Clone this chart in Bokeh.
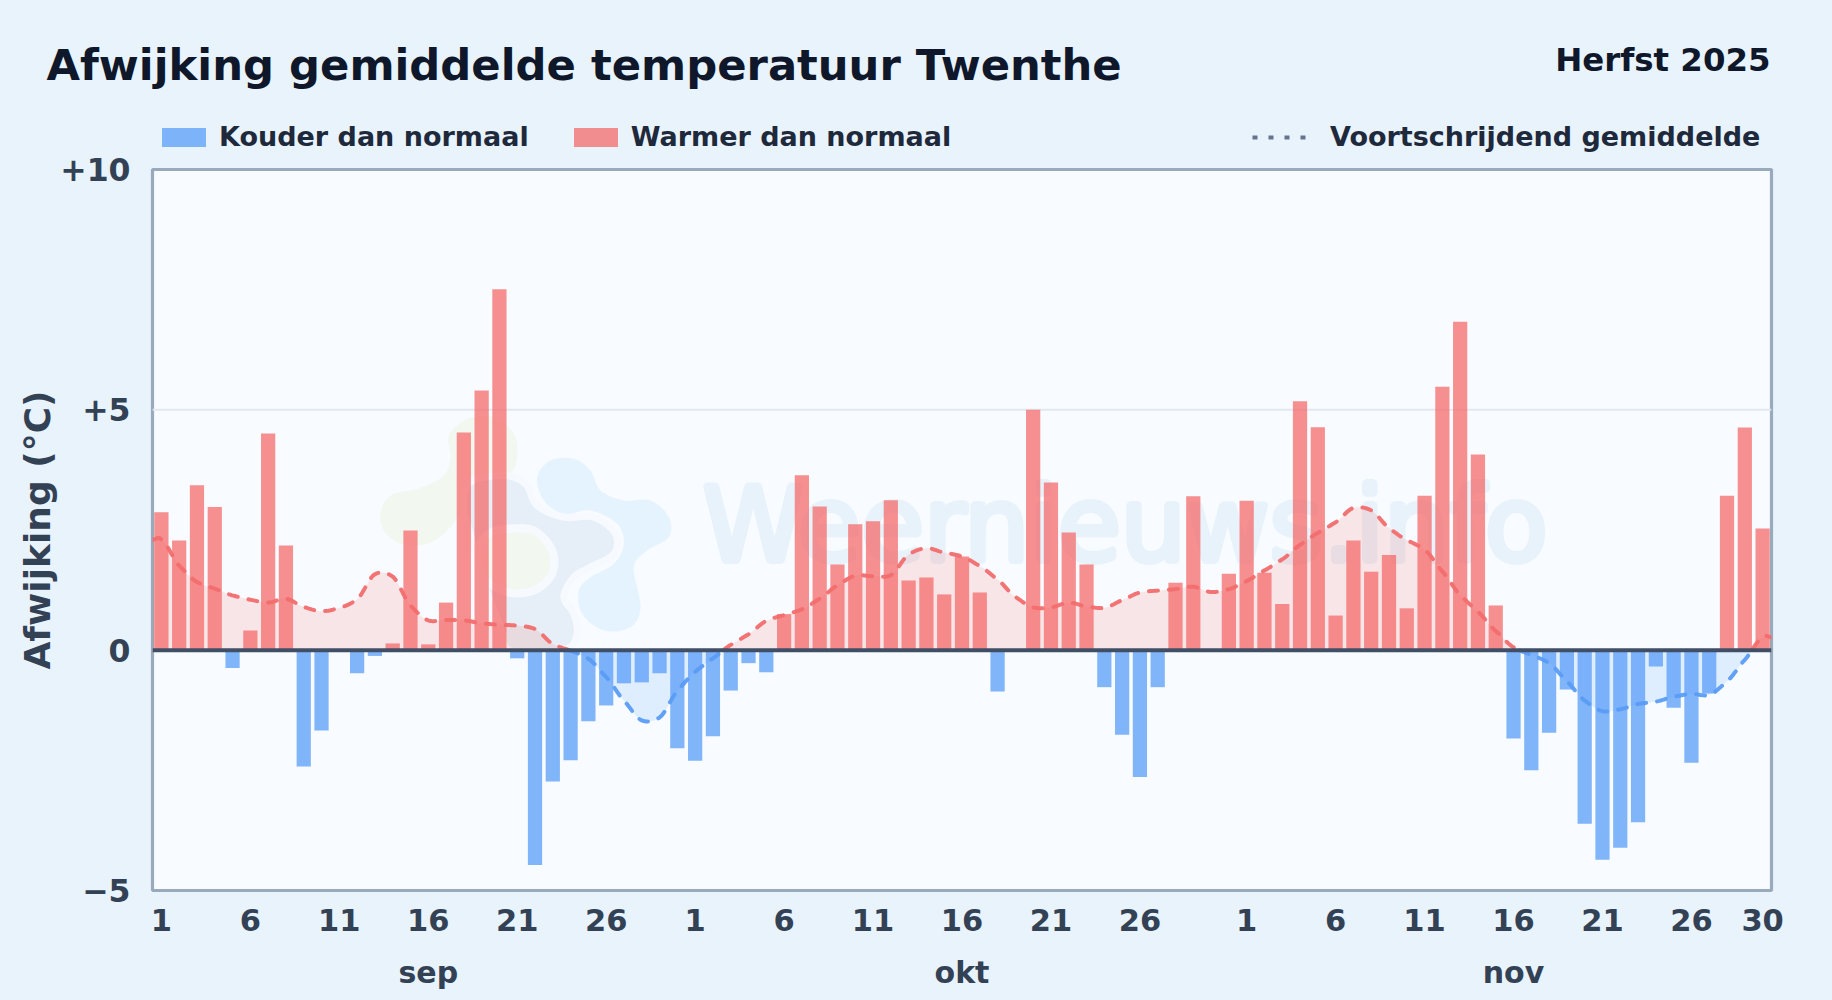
from bokeh.embed import file_html
from bokeh.resources import INLINE
from bokeh.plotting import figure
from bokeh.models import (Range1d, FixedTicker, LinearAxis, Label, Legend, LegendItem, Span,
                          GlobalInlineStyleSheet)
from bokeh.core.properties import value
import math

# ---------- data ----------
sep_days = list(range(1, 31))
okt_days = list(range(1, 32))
nov_days = list(range(1, 31))

sep_values = [2.87, 2.28, 3.43, 2.98, -0.37, 0.41, 4.51, 2.18, -2.42, -1.67, 0.0, -0.48, -0.12, 0.14, 2.49,
              0.12, 0.99, 4.53, 5.40, 7.51, -0.17, -4.47, -2.73, -2.29, -1.48, -1.15, -0.69, -0.67, -0.48, -2.04]
okt_values = [-2.30, -1.79, -0.84, -0.27, -0.46, 0.75, 3.64, 2.99, 1.78, 2.62, 2.68, 3.12, 1.45, 1.51, 1.16,
              1.95, 1.20, -0.86, 0.0, 5.00, 3.49, 2.45, 1.78, -0.77, -1.76, -2.64, -0.77, 1.40, 3.20, 0.0, 1.59]
nov_values = [3.11, 1.61, 0.96, 5.18, 4.64, 0.72, 2.28, 1.63, 1.98, 0.87, 3.21, 5.48, 6.83, 4.07, 0.93,
              -1.84, -2.50, -1.72, -0.82, -3.61, -4.36, -4.11, -3.58, -0.34, -1.20, -2.34, -0.90, 3.21, 4.63, 2.53]

sep_avg = [2.30, 1.76, 1.42, 1.28, 1.14, 1.05, 0.99, 1.07, 0.90, 0.81, 0.88, 1.06, 1.58, 1.53, 0.93,
           0.62, 0.63, 0.62, 0.56, 0.53, 0.51, 0.44, 0.13, -0.01, -0.18, -0.56, -1.05, -1.46, -1.40, -0.85]
okt_avg = [-0.45, -0.17, 0.11, 0.33, 0.61, 0.73, 0.85, 1.07, 1.35, 1.55, 1.54, 1.56, 1.99, 2.12, 2.03,
           1.95, 1.75, 1.47, 1.11, 0.89, 0.89, 0.99, 0.91, 0.88, 1.04, 1.20, 1.24, 1.27, 1.32, 1.21, 1.27]
nov_avg = [1.44, 1.66, 1.89, 2.19, 2.44, 2.66, 2.96, 2.91, 2.54, 2.29, 2.09, 1.64, 1.15, 0.80, 0.40,
           0.06, -0.10, -0.27, -0.65, -1.05, -1.27, -1.23, -1.12, -1.07, -0.97, -0.91, -0.93, -0.65, -0.20, 0.27]

month_names = ["sep", "okt", "nov"]
day_tick_labels = [1, 6, 11, 16, 21, 26]
y_tick_values = [-5, 0, 5, 10]
y_tick_labels = ["\u22125", "0", "+5", "+10"]

title_text = "Afwijking gemiddelde temperatuur Twenthe"
subtitle_text = "Herfst 2025"
ylabel_text = "Afwijking (\u00b0C)"
legend_cold = "Kouder dan normaal"
legend_warm = "Warmer dan normaal"
legend_avg = "Voortschrijdend gemiddelde"
watermark_text = "Weernieuws.info"

# ---------- layout (page pixels) ----------
PAGE_W, PAGE_H = 1832, 1000
HEAD_H = 156
OVERLAP = 14
FRAME_L, FRAME_T, FRAME_W, FRAME_H = 152, 169, 1619, 721
FONT = "DejaVu Sans"

values = sep_values + okt_values + nov_values
avg = sep_avg + okt_avg + nov_avg
n = len(values)
xs = list(range(n))

x_lo, x_hi = -0.5, n - 0.5
y_lo, y_hi = -5, 10


def px_x(px):
    return x_lo + (px - FRAME_L) / FRAME_W * (x_hi - x_lo)


def px_y(py):
    return y_hi - (py - FRAME_T) / FRAME_H * (y_hi - y_lo)


def smooth(px, py, steps=16, tension=0.42):
    """Cardinal spline through the read values, as the original's curved line."""
    ox, oy = [], []
    m = len(px)
    for i in range(m - 1):
        y0, y1, y2, y3 = py[max(i - 1, 0)], py[i], py[i + 1], py[min(i + 2, m - 1)]
        x1, x2 = px[i], px[i + 1]
        t1, t2 = tension * (y2 - y0), tension * (y3 - y1)
        for k in range(steps):
            t = k / steps
            h00 = 2 * t**3 - 3 * t**2 + 1
            h10 = t**3 - 2 * t**2 + t
            h01 = -2 * t**3 + 3 * t**2
            h11 = t**3 - t**2
            ox.append(x1 + (x2 - x1) * t)
            oy.append(h00 * y1 + h10 * t1 + h01 * y2 + h11 * t2)
    ox.append(px[-1])
    oy.append(py[-1])
    return ox, oy


def closed_blob(points, steps=10):
    """Closed smooth outline for the watermark logo (points in zoom px of the logo area)."""
    m = len(points)
    ox, oy = [], []
    for i in range(m):
        p0, p1, p2, p3 = points[(i - 1) % m], points[i], points[(i + 1) % m], points[(i + 2) % m]
        for k in range(steps):
            t = k / steps
            f = lambda a, b, c, d: 0.5 * (2 * b + (c - a) * t + (2 * a - 5 * b + 4 * c - d) * t**2 + (3 * b - a - 3 * c + d) * t**3)
            ox.append(px_x(360 + f(p0[0], p1[0], p2[0], p3[0]) / 3))
            oy.append(px_y(400 + f(p0[1], p1[1], p2[1], p3[1]) / 3))
    return ox, oy


# ---------- header figure: titles and legend ----------
head = figure(width=PAGE_W, height=HEAD_H, frame_width=PAGE_W, frame_height=HEAD_H,
              output_backend="svg", toolbar_location=None,
              x_range=Range1d(0, PAGE_W), y_range=Range1d(HEAD_H, 0),
              x_axis_type=None, y_axis_type=None,
              min_border_left=0, min_border_right=0, min_border_top=0, min_border_bottom=0)
head.stylesheets = [GlobalInlineStyleSheet(css="html,body{margin:0;background:#e8f3fc;overflow:hidden}")]
head.background_fill_color = None
head.border_fill_color = None
head.outline_line_color = None
head.xgrid.visible = False
head.ygrid.visible = False

nothing = [math.nan]
key_cold = head.vbar(x=nothing, top=nothing, width=1, fill_color="#4f97f8", fill_alpha=0.7, line_color=None)
key_warm = head.vbar(x=nothing, top=nothing, width=1, fill_color="#f56565", fill_alpha=0.72, line_color=None)
key_avg = head.line(x=nothing, y=nothing, line_color="#64748b", line_width=4, line_dash="5 11")


def make_legend(items, x_px, glyph_w, glyph_h, standoff, spacing):
    return Legend(items=items, orientation="horizontal", location=(x_px, HEAD_H - 152),
                  glyph_width=glyph_w, glyph_height=glyph_h, label_standoff=standoff, spacing=spacing, padding=0, margin=0,
                  border_line_color=None, background_fill_color=None, background_fill_alpha=0,
                  label_text_font=FONT, label_text_font_style="bold", label_text_font_size="27px",
                  label_text_color="#1e293b", label_height=24)


head.add_layout(make_legend([LegendItem(label=legend_cold, renderers=[key_cold]),
                             LegendItem(label=legend_warm, renderers=[key_warm])], 156, 55, 24, 8, 39), "center")
head.add_layout(make_legend([LegendItem(label=legend_avg, renderers=[key_avg])], 1252, 54, 24, 24, 0), "center")

head.add_layout(Label(x=46, y=64, text=title_text, text_font=FONT, text_font_style="bold",
                      text_font_size="43.3px", text_color="#0f172a", text_baseline="middle", text_align="left"))
head.add_layout(Label(x=1770, y=59, text=subtitle_text, text_font=FONT, text_font_style="bold",
                      text_font_size="32.4px", text_color="#0f172a", text_baseline="middle", text_align="right"))

# ---------- main figure (its transparent top overlaps the header so the +10 label has room) ----------
top_gap = FRAME_T - HEAD_H + OVERLAP
main_h = PAGE_H - HEAD_H + OVERLAP
p = figure(width=PAGE_W, height=main_h, frame_width=FRAME_W, frame_height=FRAME_H,
           output_backend="svg", toolbar_location=None,
           x_range=Range1d(x_lo, x_hi), y_range=Range1d(y_lo, y_hi),
           x_axis_type=None, y_axis_type=None,
           min_border_left=FRAME_L, min_border_top=top_gap,
           min_border_right=PAGE_W - FRAME_L - FRAME_W,
           min_border_bottom=main_h - top_gap - FRAME_H)
p.styles = {"margin-top": f"-{OVERLAP}px"}
p.background_fill_color = "#f8fbff"
p.border_fill_color = None
p.outline_line_color = "#9aaabd"
p.outline_line_width = 3.2
p.xgrid.visible = False
p.ygrid.visible = False

# y axis
yax = LinearAxis(ticker=FixedTicker(ticks=y_tick_values),
                 major_label_overrides=dict(zip(y_tick_values, y_tick_labels)),
                 axis_label=ylabel_text, axis_label_text_font=FONT, axis_label_text_font_style="bold",
                 axis_label_text_font_size="36px", axis_label_text_color="#334155", axis_label_standoff=-1,
                 major_label_text_font=FONT, major_label_text_font_style="bold", major_label_text_font_size="31.5px",
                 major_label_text_color="#334155", major_label_standoff=16,
                 axis_line_color=None, major_tick_line_color=None, minor_tick_line_color=None)
p.add_layout(yax, "left")

# x axis: day numbers
offsets = [0, len(sep_days), len(sep_days) + len(okt_days)]
tick_pos, tick_lab = [], []
for off in offsets:
    for d in day_tick_labels:
        tick_pos.append(off + d - 1)
        tick_lab.append(str(d))
tick_pos.append(n - 1)
tick_lab.append(str(nov_days[-1]))
xax = LinearAxis(ticker=FixedTicker(ticks=tick_pos), major_label_overrides=dict(zip(tick_pos, tick_lab)),
                 major_label_text_font=FONT, major_label_text_font_style="bold", major_label_text_font_size="30.5px",
                 major_label_text_color="#334155", major_label_standoff=12,
                 axis_line_color=None, major_tick_line_color=None, minor_tick_line_color=None)
p.add_layout(xax, "below")

# x axis: month names at the 16th of each month
month_pos = [off + 15 for off in offsets]
month_ax = LinearAxis(ticker=FixedTicker(ticks=month_pos), major_label_overrides=dict(zip(month_pos, month_names)),
                      major_label_text_font=FONT, major_label_text_font_style="bold", major_label_text_font_size="30px",
                      major_label_text_color="#334155", major_label_standoff=15,
                      axis_line_color=None, major_tick_line_color=None, minor_tick_line_color=None)
p.add_layout(month_ax, "below")

# watermark
green_outer = [(60, 340), (90, 285), (180, 262), (250, 225), (270, 170), (265, 105), (320, 55), (400, 50), (460, 100),
               (470, 170), (440, 230), (340, 280), (270, 380), (200, 430), (120, 430), (70, 390)]
blue_blob = [(530, 230), (570, 180), (640, 175), (690, 210), (720, 270), (790, 300), (870, 300), (925, 350), (925, 410),
             (860, 450), (820, 500), (840, 620), (810, 680), (730, 690), (665, 640), (655, 570), (690, 530), (760, 490),
             (790, 430), (770, 370), (690, 330), (610, 340), (550, 300)]
grey_blob = [(330, 245), (430, 225), (495, 250), (530, 315), (610, 350), (700, 350), (765, 400), (760, 460), (690, 500),
             (640, 530), (610, 590), (640, 640), (650, 700), (620, 745), (520, 760), (440, 745), (420, 680), (360, 520),
             (335, 420), (310, 320)]
green_inner = [(440, 385), (520, 390), (575, 450), (575, 520), (520, 570), (440, 575), (370, 530), (350, 450), (385, 400)]

gx, gy = closed_blob(green_outer)
p.patch(gx, gy, fill_color="#f2f8f0", line_color=None)
bx, by = closed_blob(blue_blob)
p.patch(bx, by, fill_color="#e5f3fe", line_color=None)
gx2, gy2 = closed_blob(grey_blob)
p.patch(gx2, gy2, fill_color="#e6eff8", line_color="#f6faff", line_width=7)
ix, iy = closed_blob(green_inner)
p.patch(ix, iy, fill_color="#f2f8f0", line_color="#f6faff", line_width=8)

# watermark text: regular weight thickened by offset copies, since the original is stroked
WM_X, WM_Y, WM_R = 702, 525, 3
for dx, dy in [(0, 0), (WM_R, 0), (-WM_R, 0), (0, WM_R), (0, -WM_R),
               (0.7 * WM_R, 0.7 * WM_R), (-0.7 * WM_R, 0.7 * WM_R), (0.7 * WM_R, -0.7 * WM_R), (-0.7 * WM_R, -0.7 * WM_R)]:
    p.text(x=[px_x(WM_X + dx)], y=[px_y(WM_Y + dy)], text=[watermark_text], text_font=value(FONT),
           text_font_size="102.5px", text_color="#e8f2fb", text_baseline="middle", text_align="left")

# grid line at +5
p.add_layout(Span(location=5, dimension="width", line_color="#e2e8f0", line_width=2, level="underlay"))

# moving average area
line_x, line_y = smooth([x_lo] + xs + [x_hi], [avg[0]] + avg + [avg[-1]])
pos_y = [max(v, 0) for v in line_y]
neg_y = [min(v, 0) for v in line_y]
p.varea(x=line_x, y1=[0] * len(line_x), y2=pos_y, fill_color="#fa4a3c", fill_alpha=0.12)
p.varea(x=line_x, y1=[0] * len(line_x), y2=neg_y, fill_color="#2f96f6", fill_alpha=0.12)

# bars
warm_x = [x for x, v in zip(xs, values) if v > 0]
warm_v = [v for v in values if v > 0]
cold_x = [x for x, v in zip(xs, values) if v < 0]
cold_v = [v for v in values if v < 0]
p.vbar(x=warm_x, top=warm_v, bottom=0, width=0.8, fill_color="#f56565", fill_alpha=0.72, line_color=None)
p.vbar(x=cold_x, top=cold_v, bottom=0, width=0.8, fill_color="#4f97f8", fill_alpha=0.7, line_color=None)

# zero line
p.add_layout(Span(location=0, dimension="width", line_color="#414f66", line_width=4))

# moving average line, coloured by sign
pos_line = [v if v >= 0 else math.nan for v in line_y]
neg_line = [v if v <= 0 else math.nan for v in line_y]
p.line(line_x, pos_line, line_color="#f26d6d", line_width=4, line_dash="9 11", line_cap="round", line_alpha=0.95)
p.line(line_x, neg_line, line_color="#5a9cf5", line_width=4, line_dash="9 11", line_cap="round", line_alpha=0.95)

open("out.html", "w").write(file_html([head, p], INLINE))
